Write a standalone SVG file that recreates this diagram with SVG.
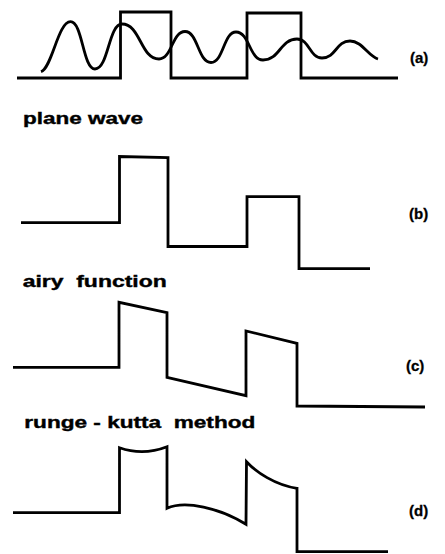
<svg xmlns="http://www.w3.org/2000/svg" width="445" height="554" viewBox="0 0 445 554">
<style>
.ln{fill:none;stroke:#000;stroke-width:2.8;stroke-linejoin:miter;stroke-linecap:butt}
.tt{font-family:"Liberation Sans","DejaVu Sans",sans-serif;font-weight:bold;font-size:17px;fill:#000;stroke:#000;stroke-width:0.4}
.lb{font-family:"Liberation Sans","DejaVu Sans",sans-serif;font-weight:bold;font-size:15px;fill:#000;stroke:#000;stroke-width:0.3}
</style>
<rect width="445" height="554" fill="#fff"/>
<g id="connectors">
<g id="panel-a">
<path class="ln" d="M17,78 L120.5,78 L120.5,12 L171,12 L171,78 L247,78 L247,13 L301,13 L301,78 L398,78"/>
<path class="ln" d="M41,71.7 C52,68 58,21.7 70.5,21.7 C82.7,21.7 82.8,69 95,69 C108.5,69 108.5,24 122,24 C140.5,24 140.5,59 159,59 C172,59 172,31.5 185,31.5 C198,31.5 198,62.5 211,62.5 C223.5,62.5 223.5,32 236,32 C249.5,32 249.5,60 263,60 C280,60 280,39 297,39 C309.5,39 309.5,58 322,58 C336,58 336,41 350,41 C362,41 368,56 378,59"/>
</g>
<g id="panel-b">
<path class="ln" d="M21,222.7 L119.5,222.7 L119.5,156.5 L168,157.5 L168,246.5 L247,246.5 L247,196.7 L299,196.7 L299,268.7 L370,268.7"/>
</g>
<g id="panel-c">
<path class="ln" d="M13,367.3 L119,367.3 L119,302.3 L167,312.7 L167,377.3 L246,395.7 L246,331 L297,343.3 L297,406 L425,407"/>
</g>
<g id="panel-d">
<path class="ln" d="M13,512.7 L119.5,512.7 L119.5,447.7 Q143,456 167,446.7 L167,508.3 C185,500 220,508 246,524.3 L246.5,461.7 C256,472 275,485 297,488.3 L297,551.7 L388,551.7"/>
</g>
</g>
<g id="label-plane-wave"><text class="tt" x="23" y="123.5" textLength="120" lengthAdjust="spacingAndGlyphs">plane wave</text></g>
<g id="label-airy-function"><text class="tt" x="22.7" y="287" textLength="144" lengthAdjust="spacingAndGlyphs" xml:space="preserve">airy  function</text></g>
<g id="label-runge-kutta"><text class="tt" x="24.3" y="427.7" textLength="231" lengthAdjust="spacingAndGlyphs" xml:space="preserve">runge - kutta  method</text></g>
<g id="label-a"><text class="lb" x="410" y="62.5">(a)</text></g>
<g id="label-b"><text class="lb" x="409" y="218.5">(b)</text></g>
<g id="label-c"><text class="lb" x="406" y="371">(c)</text></g>
<g id="label-d"><text class="lb" x="409" y="516">(d)</text></g>
</svg>
